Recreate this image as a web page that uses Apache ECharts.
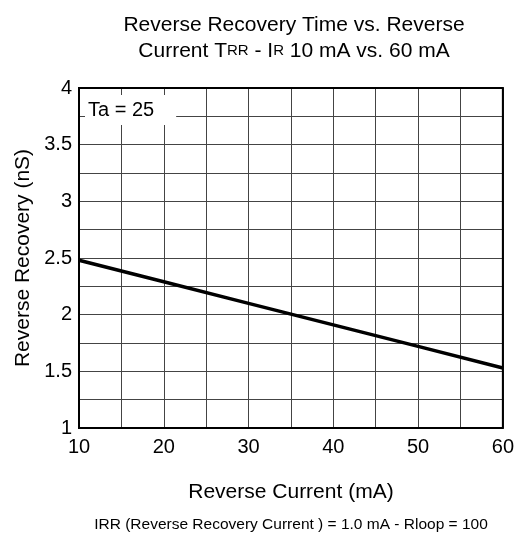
<!DOCTYPE html>
<html>
<head>
<meta charset="utf-8">
<script src="https://cdn.jsdelivr.net/npm/echarts@6/dist/echarts.min.js"></script>
<style>
  html, body { margin: 0; padding: 0; background: #fff; }
  #main { width: 517px; height: 541px; }
</style>
</head>
<body>
<div id="main"></div>
<script>
// data
const currents = [10, 20, 30, 40, 50, 60]
const recovery = [2.48, 2.29, 2.10, 1.91, 1.72, 1.53]
const yLabels = ['1', '1.5', '2', '2.5', '3', '3.5', '4']
const xLabels = ['10', '20', '30', '40', '50', '60']

const font = 'Liberation Sans, Arial, sans-serif'
const chart = echarts.init(document.getElementById('main'))

chart.setOption({
    animation: false,
    textStyle: { fontFamily: font },
    title: [{
        text: 'Reverse Recovery Time vs. Reverse\nCurrent T{s|RR} - I{s|R} 10 mA vs. 60 mA',
        left: 289,
        top: 7,
        textAlign: 'center',
        textStyle: {
            fontSize: 21,
            fontWeight: 'normal',
            color: '#000',
            lineHeight: 26,
            rich: {
                s: { fontSize: 15, color: '#000', lineHeight: 26 }
            }
        }
    }, {
        text: 'Ta = 25',
        left: 85,
        top: 95,
        padding: [5, 22, 5, 3],
        backgroundColor: '#fff',
        textStyle: { fontSize: 20, fontWeight: 'normal', color: '#000', lineHeight: 20 }
    }, {
        text: 'IRR (Reverse Recovery Current ) = 1.0 mA - Rloop = 100',
        left: 286,
        top: 512,
        textAlign: 'center',
        textStyle: { fontSize: 15.5, fontWeight: 'normal', color: '#000' }
    }],
    grid: {
        left: 79,
        right: 12,
        top: 88,
        bottom: 113,
        show: true,
        borderColor: '#000',
        borderWidth: 2,
        z: 3
    },
    xAxis: {
        type: 'value',
        min: 10,
        max: 60,
        interval: 5,
        name: 'Reverse Current (mA)',
        nameLocation: 'middle',
        nameGap: 54,
        nameTextStyle: { fontSize: 21, color: '#000' },
        axisLine: { show: false },
        axisTick: { show: false },
        axisLabel: {
            fontSize: 20,
            color: '#000',
            margin: 9,
            formatter: function (v) {
                return xLabels.indexOf(String(v)) >= 0 ? String(v) : ''
            }
        },
        splitLine: { lineStyle: { color: '#444', width: 1 } }
    },
    yAxis: {
        type: 'value',
        min: 1,
        max: 4,
        interval: 0.25,
        name: 'Reverse Recovery (nS)',
        nameLocation: 'middle',
        nameGap: 45,
        nameTextStyle: { fontSize: 21, color: '#000' },
        axisLine: { show: false },
        axisTick: { show: false },
        axisLabel: {
            fontSize: 20,
            color: '#000',
            margin: 7,
            formatter: function (v) {
                const s = String(v)
                return yLabels.indexOf(s) >= 0 ? s : ''
            }
        },
        splitLine: { lineStyle: { color: '#444', width: 1 } }
    },
    series: [{
        type: 'line',
        data: currents.map((x, i) => [x, recovery[i]]),
        showSymbol: false,
        lineStyle: { color: '#000', width: 3.5 },
        z: 4
    }]
})
</script>
</body>
</html>
